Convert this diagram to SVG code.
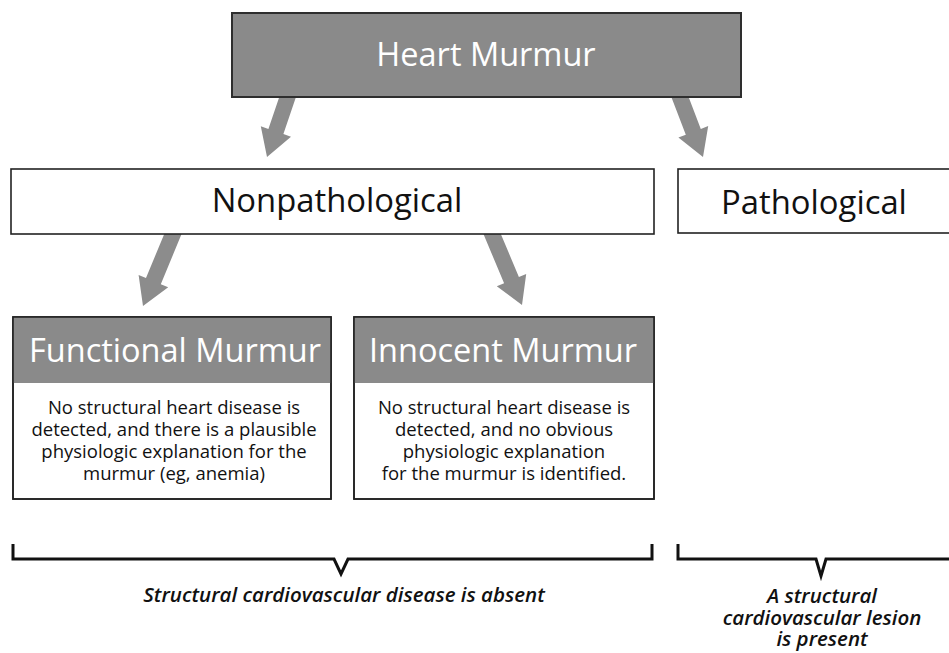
<svg xmlns="http://www.w3.org/2000/svg" width="949" height="653" viewBox="0 0 949 653">
<style>
text{font-family:"Open Sans","Noto Sans","Liberation Sans",sans-serif;text-anchor:middle}
.gray{fill:#8a8a8a;stroke:#2e2e2e;stroke-width:2}
.white{fill:#fff;stroke:#222;stroke-width:1.6}
.title{fill:#fff;font-size:32.5px}
.label{fill:#111;font-size:32.8px}
.body{fill:#111;font-size:18.5px}
.note{fill:#111;font-size:20.5px;font-style:italic;font-weight:600}
.arrow{fill:#8c8c8c}
.bracket{fill:none;stroke:#111;stroke-width:3}
</style>
<g id="connectors">
<polygon class="arrow" points="282.5,87.4 297.5,92.6 283.4,134.1 291,136.8 267,157 260.8,126.2 268.4,128.9"/>
<polygon class="arrow" points="669.8,92.9 684.8,87.1 700.8,128.9 708.2,126.1 703,157 678.4,137.5 685.8,134.7"/>
<polygon class="arrow" points="168,224.9 182.8,231.1 160.8,284.2 168.2,287.2 143,306 138.6,274.9 146,278"/>
<polygon class="arrow" points="482.2,231.1 497,224.9 518.9,277 526.2,273.9 522,305 496.8,286.3 504.1,283.2"/>
</g>
<g id="heart-murmur">
<rect class="gray" x="232" y="13" width="509" height="84"/>
<text class="title" x="486" y="66">Heart Murmur</text>
</g>
<g id="nonpathological">
<rect class="white" x="11" y="169" width="643" height="65"/>
<text class="label" x="337" y="212">Nonpathological</text>
</g>
<g id="pathological">
<rect class="white" x="678" y="169" width="290" height="64"/>
<text class="label" x="814" y="214">Pathological</text>
</g>
<g id="functional-murmur">
<rect class="white" x="13" y="317" width="318" height="182"/>
<rect fill="#8a8a8a" x="13" y="317" width="318" height="66"/>
<rect fill="none" stroke="#222" stroke-width="1.6" x="13" y="317" width="318" height="182"/>
<text class="title" x="175" y="362">Functional Murmur</text>
<text class="body" x="174" y="414">No structural heart disease is</text>
<text class="body" x="174" y="436">detected, and there is a plausible</text>
<text class="body" x="174" y="458">physiologic explanation for the</text>
<text class="body" x="174" y="480">murmur (eg, anemia)</text>
</g>
<g id="innocent-murmur">
<rect class="white" x="354" y="317" width="300" height="182"/>
<rect fill="#8a8a8a" x="354" y="317" width="300" height="66"/>
<rect fill="none" stroke="#222" stroke-width="1.6" x="354" y="317" width="300" height="182"/>
<text class="title" x="503" y="362">Innocent Murmur</text>
<text class="body" x="504" y="414">No structural heart disease is</text>
<text class="body" x="504" y="436">detected, and no obvious</text>
<text class="body" x="504" y="458">physiologic explanation</text>
<text class="body" x="504" y="480">for the murmur is identified.</text>
</g>
<g id="absent-bracket">
<path class="bracket" d="M13,544 V559 H334 L341,574 L348,559 H652 V544"/>
<text class="note" x="344" y="602">Structural cardiovascular disease is absent</text>
</g>
<g id="present-bracket">
<path class="bracket" d="M678,544 V559 H816 L821,576 L826,559 H949"/>
<text class="note" x="822" y="603">A structural</text>
<text class="note" x="822" y="625">cardiovascular lesion</text>
<text class="note" x="822" y="646">is present</text>
</g>
</svg>
